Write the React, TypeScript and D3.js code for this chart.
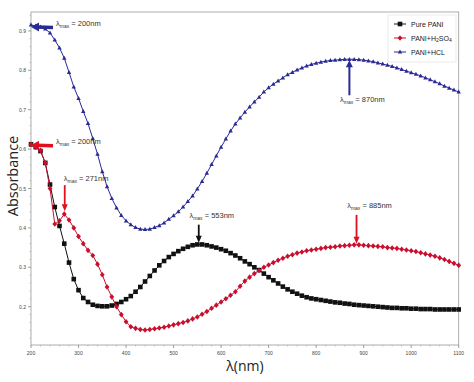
import React from "react";
import * as d3 from "d3";

const wavelengths: number[] = d3.range(200, 1101, 10);

const pureValues: number[] = [
  0.612, 0.605, 0.595, 0.565, 0.51, 0.453, 0.405, 0.36, 0.312, 0.27,
  0.242, 0.222, 0.212, 0.205, 0.202, 0.201, 0.201, 0.203, 0.207, 0.212,
  0.219, 0.227, 0.238, 0.25, 0.264, 0.278, 0.292, 0.305, 0.316, 0.326,
  0.334, 0.341, 0.347, 0.352, 0.356, 0.358, 0.358, 0.356, 0.353, 0.35,
  0.346, 0.342, 0.336, 0.33, 0.323, 0.315, 0.308, 0.3, 0.293, 0.284,
  0.275, 0.267, 0.259, 0.251, 0.244, 0.238, 0.233, 0.228, 0.224, 0.221,
  0.219, 0.217, 0.215, 0.213, 0.211, 0.21, 0.208, 0.207, 0.205, 0.204,
  0.203, 0.202, 0.201, 0.2, 0.199, 0.198, 0.197, 0.197, 0.196, 0.196,
  0.195, 0.195, 0.194, 0.194, 0.194, 0.193, 0.193, 0.193, 0.193, 0.193,
  0.193,
];

const h2so4Values: number[] = [
  0.612, 0.605, 0.597, 0.565, 0.5, 0.41, 0.418, 0.435, 0.42, 0.4,
  0.378, 0.36, 0.343, 0.33, 0.308, 0.281, 0.25, 0.225, 0.2, 0.18,
  0.162, 0.149, 0.145, 0.142, 0.141, 0.142, 0.144, 0.146, 0.148, 0.151,
  0.154, 0.157, 0.16, 0.164, 0.169, 0.174, 0.181, 0.188, 0.196, 0.204,
  0.212, 0.22, 0.229, 0.238, 0.252, 0.265, 0.275, 0.284, 0.292, 0.3,
  0.306, 0.312, 0.318, 0.323, 0.328, 0.332, 0.336, 0.339, 0.342, 0.344,
  0.346, 0.348, 0.35, 0.351, 0.352, 0.354, 0.355, 0.356, 0.357, 0.357,
  0.356, 0.355, 0.354, 0.353, 0.352, 0.35, 0.349, 0.348, 0.346, 0.344,
  0.342, 0.34, 0.337, 0.334, 0.331, 0.328, 0.324, 0.32, 0.315, 0.31,
  0.305,
];

const hclValues: number[] = [
  0.915, 0.913, 0.91, 0.905, 0.895, 0.877, 0.857, 0.831, 0.795, 0.758,
  0.729, 0.696, 0.665, 0.627, 0.587, 0.543, 0.505, 0.475, 0.451, 0.432,
  0.418, 0.408, 0.401, 0.397, 0.396, 0.397, 0.401, 0.406, 0.413, 0.422,
  0.431, 0.441, 0.453, 0.467, 0.481, 0.499, 0.518, 0.539, 0.561, 0.583,
  0.605, 0.626, 0.646, 0.664, 0.679, 0.694, 0.707, 0.72, 0.732, 0.745,
  0.756, 0.765, 0.773, 0.781, 0.789, 0.795, 0.801, 0.806, 0.811, 0.815,
  0.818, 0.821, 0.823, 0.825, 0.826, 0.827, 0.828, 0.828, 0.828, 0.827,
  0.826, 0.824, 0.822, 0.819, 0.816, 0.813, 0.81, 0.806, 0.802, 0.798,
  0.794, 0.79, 0.786, 0.781, 0.776, 0.771, 0.766, 0.76, 0.755, 0.75,
  0.745,
];

const xTicks: number[] = [200, 300, 400, 500, 600, 700, 800, 900, 1000, 1100];
const yTicks: number[] = [0.2, 0.3, 0.4, 0.5, 0.6, 0.7, 0.8, 0.9];

const seriesNames: string[] = ["Pure PANI", "PANI+H2SO4", "PANI+HCL"];
const seriesColors: string[] = ["#111111", "#c8102e", "#2a2a96"];

const annLabels: string[] = ["200nm", "200nm", "271nm", "553nm", "885nm", "870nm"];
const annX: number[] = [200, 200, 271, 553, 885, 870];
const annY: number[] = [0.91, 0.61, 0.44, 0.36, 0.357, 0.828];
const annDir: string[] = ["left", "left", "down", "down", "down", "up"];
const annColor: string[] = ["#2a2a96", "#e0101e", "#e0101e", "#111111", "#e0101e", "#2a2a96"];

const W = 474;
const H = 382;
const left = 31;
const right = 458.7;
const top = 12;
const bottom = 345;

export default function App() {
  const x = d3.scaleLinear().domain([200, 1100]).range([left, right]);
  const y = d3.scaleLinear().domain([0.1028, 0.948]).range([bottom, top]);

  const series = [pureValues, h2so4Values, hclValues];
  const line = d3
    .line<[number, number]>()
    .x((d) => x(d[0]))
    .y((d) => y(d[1]));

  const minorX = d3.range(200, 1101, 20).filter((v) => v % 100 !== 0);
  const minorY = d3.range(0.12, 0.95, 0.02).filter((v) => Math.abs(v * 10 - Math.round(v * 10)) > 0.01);

  const marker = (i: number, cx: number, cy: number, key: number) => {
    const c = seriesColors[i];
    if (i === 0) {
      return <rect key={key} x={cx - 2.3} y={cy - 2.3} width={4.6} height={4.6} fill={c} />;
    }
    if (i === 1) {
      return (
        <path
          key={key}
          d={`M${cx},${cy - 2.8}L${cx + 2.4},${cy}L${cx},${cy + 2.8}L${cx - 2.4},${cy}Z`}
          fill={c}
        />
      );
    }
    return (
      <path
        key={key}
        d={`M${cx},${cy - 2.4}L${cx + 2.2},${cy + 1.6}L${cx - 2.2},${cy + 1.6}Z`}
        fill={c}
      />
    );
  };

  const lamFont = "'Liberation Sans Narrow', 'Liberation Sans', Arial, sans-serif";

  const renderAnn = (k: number) => {
    const px = x(annX[k]);
    const py = y(annY[k]);
    const c = annColor[k];
    const dir = annDir[k];
    let arrow: React.ReactNode = null;
    let tx = 0;
    let ty = 0;
    let anchor: "start" | "middle" = "start";
    if (dir === "left") {
      const len = 22;
      arrow = (
        <g>
          <line x1={px + 6} y1={py} x2={px + len} y2={py + 0.5} stroke={c} strokeWidth={3.5} />
          <path d={`M${px},${py}L${px + 8},${py - 4.5}L${px + 8},${py + 4.5}Z`} fill={c} />
        </g>
      );
      tx = px + len + 3;
      ty = py - 1;
    } else if (dir === "down") {
      const len = k === 3 ? 19 : k === 2 ? 27 : 30;
      arrow = (
        <g>
          <line x1={px} y1={py - len} x2={px} y2={py - 6} stroke={c} strokeWidth={1.8} />
          <path d={`M${px},${py - 1}L${px - 3},${py - 8}L${px + 3},${py - 8}Z`} fill={c} />
        </g>
      );
      if (k === 2) {
        tx = px - 1;
        ty = py - len - 4;
      } else {
        anchor = "middle";
        tx = px + 13;
        ty = py - len - 7;
      }
    } else {
      const len = 36;
      arrow = (
        <g>
          <line x1={px} y1={py + len} x2={px} y2={py + 6} stroke={c} strokeWidth={2} />
          <path d={`M${px},${py + 1}L${px - 3.5},${py + 8}L${px + 3.5},${py + 8}Z`} fill={c} />
        </g>
      );
      anchor = "middle";
      tx = px + 13;
      ty = py + len + 7;
    }
    return (
      <g key={"ann" + k}>
        {arrow}
        <text x={tx} y={ty} fontSize={7.5} fill="#333" fontFamily={lamFont} textAnchor={anchor}>
          λ<tspan fontSize={5} dy={2}>max</tspan>
          <tspan dy={-2}> = {annLabels[k]}</tspan>
        </text>
      </g>
    );
  };

  return (
    <svg
      width={W}
      height={H}
      style={{ position: "absolute", left: 0, top: 0, background: "#fff" }}
      fontFamily="'Liberation Sans', Arial, sans-serif"
    >
      <rect x={0} y={0} width={W} height={H} fill="#fff" />
      <rect x={left} y={top} width={right - left} height={bottom - top} fill="none" stroke="#9a9a9a" strokeWidth={0.8} />

      {xTicks.map((t) => (
        <g key={"xt" + t}>
          <line x1={x(t)} x2={x(t)} y1={bottom} y2={bottom + 3} stroke="#777" strokeWidth={0.7} />
          <text x={x(t)} y={bottom + 10} fontSize={5} textAnchor="middle" fill="#444">
            {t}
          </text>
        </g>
      ))}
      {minorX.map((t) => (
        <line key={"xm" + t} x1={x(t)} x2={x(t)} y1={bottom} y2={bottom + 1.5} stroke="#999" strokeWidth={0.5} />
      ))}
      {yTicks.map((t) => (
        <g key={"yt" + t}>
          <line x1={left - 3} x2={left} y1={y(t)} y2={y(t)} stroke="#777" strokeWidth={0.7} />
          <text x={left - 5} y={y(t) + 2} fontSize={5} textAnchor="end" fill="#444">
            {t.toFixed(1)}
          </text>
        </g>
      ))}
      {minorY.map((t, i) => (
        <line key={"ym" + i} x1={left - 1.5} x2={left} y1={y(t)} y2={y(t)} stroke="#999" strokeWidth={0.5} />
      ))}

      <text x={245} y={371} fontSize={14} textAnchor="middle" fill="#222" fontFamily="'Open Sans', Arial, sans-serif">
        λ(nm)
      </text>
      <text
        transform={`translate(18,176) rotate(-90)`}
        fontSize={14.5}
        textAnchor="middle"
        fill="#222"
        fontFamily="'Open Sans', Arial, sans-serif"
      >
        Absorbance
      </text>

      {series.map((vals, i) => {
        const pts: [number, number][] = wavelengths.map((w, j) => [w, vals[j]]);
        return (
          <g key={"s" + i}>
            <path d={line(pts) || ""} fill="none" stroke={seriesColors[i]} strokeWidth={1} />
            {pts.map((p, j) => marker(i, x(p[0]), y(p[1]), j))}
          </g>
        );
      })}

      {annLabels.map((_, k) => renderAnn(k))}

      <rect x={388} y={15} width={68} height={47} fill="#fff" stroke="#ddd" strokeWidth={0.6} />
      {seriesNames.map((n, i) => {
        const ly = 24 + i * 14;
        return (
          <g key={"lg" + i}>
            <line x1={394} x2={406} y1={ly} y2={ly} stroke={seriesColors[i]} strokeWidth={1} />
            {marker(i, 400, ly, 999)}
            <text x={411} y={ly + 2.5} fontSize={7} fill="#222" fontFamily={lamFont}>
              {i === 1 ? (
                <>
                  PANI+H<tspan fontSize={5} dy={1.5}>2</tspan>
                  <tspan dy={-1.5}>SO</tspan>
                  <tspan fontSize={5} dy={1.5}>4</tspan>
                </>
              ) : (
                n
              )}
            </text>
          </g>
        );
      })}
    </svg>
  );
}
